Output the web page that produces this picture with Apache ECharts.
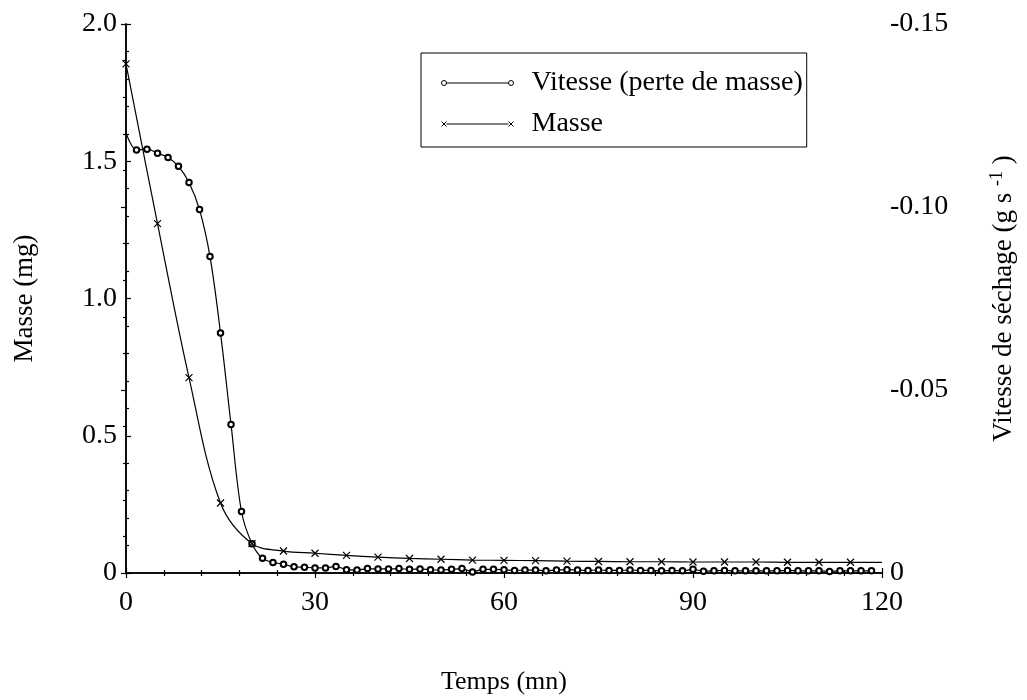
<!DOCTYPE html>
<html>
<head>
<meta charset="utf-8">
<script src="https://cdn.jsdelivr.net/npm/echarts@6/dist/echarts.min.js"></script>
<style>html,body{margin:0;padding:0;background:#fff;}#c{width:1027px;height:700px;}</style>
</head>
<body>
<div id="c"></div>
<script>
// Vitesse (perte de masse) — time (mn) and drying rate (g/s)
const vitesseTemps = [0, 1.67, 3.33, 5, 6.67, 8.33, 10, 11.67, 13.33, 15, 16.67, 18.33, 20, 21.67, 23.33, 25, 26.67, 28.33, 30, 31.67, 33.33, 35, 36.67, 38.33, 40, 41.67, 43.33, 45, 46.67, 48.33, 50, 51.67, 53.33, 55, 56.67, 58.33, 60, 61.67, 63.33, 65, 66.67, 68.33, 70, 71.67, 73.33, 75, 76.67, 78.33, 80, 81.67, 83.33, 85, 86.67, 88.33, 90, 91.67, 93.33, 95, 96.67, 98.33, 100, 101.67, 103.33, 105, 106.67, 108.33, 110, 111.67, 113.33, 115, 116.67, 118.33];
const vitesseValeurs = [-0.1203, -0.1156, -0.1158, -0.1147, -0.1135, -0.1111, -0.1067, -0.0993, -0.0865, -0.0656, -0.0406, -0.0168, -0.0080, -0.0040, -0.0029, -0.0024, -0.0017, -0.0016, -0.0014, -0.0014, -0.0018, -0.0009, -0.0008, -0.0012, -0.0011, -0.0011, -0.0012, -0.0010, -0.0011, -0.0009, -0.0008, -0.0010, -0.0012, -0.0003, -0.0010, -0.0010, -0.0009, -0.0007, -0.0008, -0.0008, -0.0006, -0.0008, -0.0009, -0.0008, -0.0007, -0.0008, -0.0007, -0.0007, -0.0008, -0.0007, -0.0007, -0.0006, -0.0007, -0.0006, -0.0010, -0.0005, -0.0006, -0.0007, -0.0006, -0.0006, -0.0006, -0.0006, -0.0006, -0.0007, -0.0006, -0.0006, -0.0006, -0.0004, -0.0006, -0.0006, -0.0006, -0.0006];
// Masse — time (mn) and mass (mg)
const masseTemps = [0, 5, 10, 15, 20, 25, 30, 35, 40, 45, 50, 55, 60, 65, 70, 75, 80, 85, 90, 95, 100, 105, 110, 115, 120];
const masseValeurs = [1.855, 1.273, 0.712, 0.255, 0.107, 0.080, 0.072, 0.064, 0.058, 0.053, 0.050, 0.047, 0.046, 0.045, 0.043, 0.042, 0.041, 0.041, 0.040, 0.040, 0.040, 0.039, 0.039, 0.039, 0.039];
// Axis ticks
const xTicks = [0, 30, 60, 90, 120];
const masseTicks = [0, 0.5, 1.0, 1.5, 2.0];
const vitesseTicks = [-0.15, -0.10, -0.05, 0];

const FONT = '"Liberation Serif", "DejaVu Serif", serif';
const chart = echarts.init(document.getElementById('c'), null, {renderer: 'canvas'});

const vitesseData = vitesseTemps.map((t, i) => {
  const d = {value: [t, vitesseValeurs[i]]};
  if (i === 0) d.symbol = 'none';
  return d;
});
const masseData = masseTemps.map((t, i) => {
  const d = {value: [t, masseValeurs[i]]};
  if (i === masseTemps.length - 1) d.symbol = 'none';
  return d;
});

const crossPath = 'path://M0,0L10,10M10,0L0,10';
const legendCircle = 'path://M5,2.5A2.5,2.5 0 1 1 0,2.5A2.5,2.5 0 1 1 5,2.5M5,2.5L67,2.5M72,2.5A2.5,2.5 0 1 1 67,2.5A2.5,2.5 0 1 1 72,2.5';
const legendCross = 'path://M0,0L5,5M5,0L0,5M5,2.5L67,2.5M67,0L72,5M72,0L67,5';

const axisLine = {show: true, lineStyle: {color: '#000', width: 1.5}};
const tickStyle = {show: true, inside: true, length: 5, lineStyle: {color: '#000', width: 1.2}};
const minorStyle = {show: true, splitNumber: 5, length: 3, lineStyle: {color: '#000', width: 1.2}};
const lbl = {color: '#000', fontFamily: FONT, fontSize: 28};

chart.setOption({
  animation: false,
  backgroundColor: '#fff',
  grid: {left: 126, right: 145, top: 24, bottom: 126},
  legend: {
    orient: 'vertical',
    left: 421, top: 53,
    padding: [16, 4, 9, 20],
    itemGap: 13,
    itemWidth: 72, itemHeight: 5,
    borderColor: '#000', borderWidth: 1,
    textStyle: {color: '#000', fontFamily: FONT, fontSize: 28, padding: [0, 0, 0, 13]},
    itemStyle: {color: 'rgba(0,0,0,0)', borderColor: '#000', borderWidth: 1},
    data: [
      {name: 'Vitesse (perte de masse)', icon: legendCircle},
      {name: 'Masse', icon: legendCross}
    ]
  },
  xAxis: [{
    type: 'value', min: xTicks[0], max: xTicks[xTicks.length - 1], interval: 30,
    name: 'Temps (mn)', nameLocation: 'middle', nameGap: 96,
    nameTextStyle: {color: '#000', fontFamily: FONT, fontSize: 26},
    axisLine: axisLine, axisTick: tickStyle, minorTick: minorStyle,
    splitLine: {show: false},
    axisLabel: Object.assign({margin: 16, formatter: v => xTicks.includes(v) ? String(v) : ''}, lbl)
  }, {
    type: 'value', position: 'top', min: xTicks[0], max: xTicks[xTicks.length - 1], interval: 30,
    axisLine: axisLine, axisTick: tickStyle, minorTick: minorStyle,
    splitLine: {show: false}, axisLabel: {show: false}
  }],
  yAxis: [{
    type: 'value', min: 0, max: 2, interval: 0.5, position: 'left',
    name: 'Masse (mg)', nameLocation: 'middle', nameGap: 88, nameRotate: 90,
    nameTextStyle: {color: '#000', fontFamily: FONT, fontSize: 27},
    axisLine: axisLine, axisTick: tickStyle, minorTick: minorStyle,
    splitLine: {show: false},
    axisLabel: Object.assign({margin: 9, formatter: v => {
      const t = masseTicks.find(m => Math.abs(m - v) < 1e-9);
      return t === undefined ? '' : (t === 0 ? '0' : t.toFixed(1));
    }}, lbl)
  }, {
    type: 'value', min: -0.15, max: 0, interval: 0.05, inverse: true, position: 'right',
    name: '{n|Vitesse de séchage (g s }{s|-1}{n| )}', nameLocation: 'middle', nameGap: 106, nameRotate: 90,
    nameTextStyle: {color: '#000', fontFamily: FONT, fontSize: 27,
      rich: {n: {fontFamily: FONT, fontSize: 27, color: '#000'},
             s: {fontFamily: FONT, fontSize: 18, color: '#000', verticalAlign: 'top', padding: [0, 0, 14, 0]}}},
    axisLine: axisLine, axisTick: tickStyle, minorTick: minorStyle,
    splitLine: {show: false},
    axisLabel: Object.assign({margin: 8, formatter: v => {
      const t = vitesseTicks.find(m => Math.abs(m - v) < 1e-9);
      return t === undefined ? '' : (t === 0 ? '0' : t.toFixed(2));
    }}, lbl)
  }],
  series: [{
    name: 'Vitesse (perte de masse)', type: 'line', xAxisIndex: 0, yAxisIndex: 1,
    data: vitesseData, smooth: 0.35,
    symbol: 'emptyCircle', symbolSize: 5.5,
    lineStyle: {color: '#000', width: 1.2},
    itemStyle: {color: '#000', borderColor: '#000', borderWidth: 1}
  }, {
    name: 'Masse', type: 'line', xAxisIndex: 0, yAxisIndex: 0,
    data: masseData, smooth: 0.35,
    symbol: crossPath, symbolSize: 7,
    lineStyle: {color: '#000', width: 1.2},
    itemStyle: {color: '#000', borderColor: '#000', borderWidth: 1.2}
  }]
});
</script>
</body>
</html>
